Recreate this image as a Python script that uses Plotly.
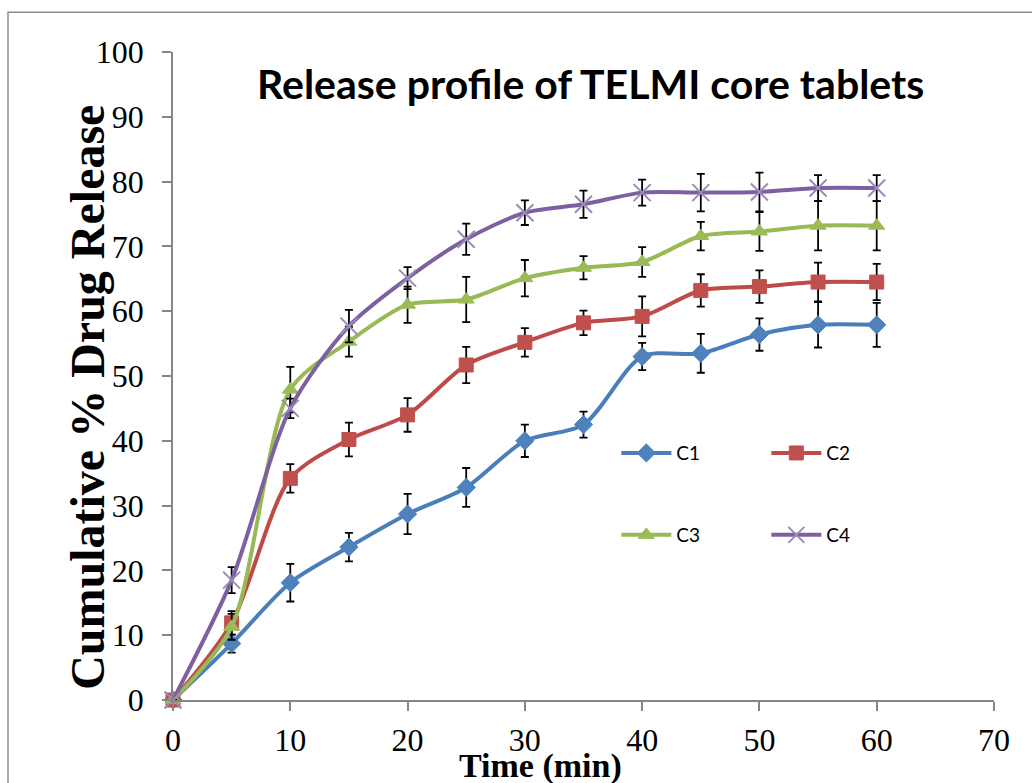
import plotly.graph_objects as go

time_min = [0, 5, 10, 15, 20, 25, 30, 35, 40, 45, 50, 55, 60]

c1 = [0, 8.7, 18.1, 23.6, 28.7, 32.8, 40.0, 42.5, 53.0, 53.5, 56.4, 57.9, 57.9]
c1_err = [0, 1.4, 2.9, 2.2, 3.1, 3.0, 2.5, 2.0, 2.1, 3.0, 2.5, 3.5, 3.4]
c2 = [0, 11.9, 34.2, 40.2, 44.0, 51.7, 55.2, 58.2, 59.2, 63.2, 63.8, 64.5, 64.5]
c2_err = [0, 1.8, 2.2, 2.6, 2.6, 2.8, 2.2, 1.9, 3.1, 2.5, 2.5, 3.0, 2.8]
c3 = [0, 11.3, 47.9, 55.3, 61.0, 61.8, 65.1, 66.7, 67.6, 71.6, 72.3, 73.2, 73.2]
c3_err = [0, 2.0, 3.5, 2.3, 2.8, 3.5, 2.8, 1.8, 2.3, 2.2, 3.0, 3.8, 3.8]
c4 = [0, 18.5, 45.0, 57.7, 65.1, 71.1, 75.2, 76.5, 78.3, 78.3, 78.4, 79.0, 79.0]
c4_err = [0, 2.0, 1.5, 2.5, 1.7, 2.4, 1.9, 2.1, 2.0, 2.9, 3.0, 2.0, 2.0]

series_names = ["C1", "C2", "C3", "C4"]
x_ticks = [0, 10, 20, 30, 40, 50, 60, 70]
y_ticks = [0, 10, 20, 30, 40, 50, 60, 70, 80, 90, 100]

SERIF = "Liberation Serif, Times New Roman, serif"
SANS = "Lato, Carlito, Calibri, sans-serif"

styles = [
    dict(line="#4A7EBB", marker="#4F81BD", symbol="diamond", size=14, legend="legend"),
    dict(line="#BE4B48", marker="#C0504D", symbol="square", size=14, legend="legend"),
    dict(line="#98B954", marker="#9BBB59", symbol="triangle-up", size=14, legend="legend2"),
    dict(line="#7D60A0", marker="#9A8BB8", symbol="x-thin-open", size=17, legend="legend2"),
]

fig = go.Figure()
for name, ys, err, st in zip(series_names, [c1, c2, c3, c4],
                             [c1_err, c2_err, c3_err, c4_err], styles):
    mk = dict(symbol=st["symbol"], size=st["size"], color=st["marker"])
    if st["symbol"] == "x-thin-open":
        mk["line"] = dict(color=st["marker"], width=2)
    else:
        mk["line"] = dict(color=st["marker"], width=1)
    fig.add_trace(go.Scatter(
        x=time_min, y=ys, name=name, mode="lines+markers",
        line=dict(color=st["line"], width=4, shape="spline", smoothing=0.8),
        marker=mk,
        error_y=dict(type="data", array=err, visible=True, color="black",
                     thickness=1.8, width=4),
        legend=st["legend"], cliponaxis=False,
    ))

axis_common = dict(
    showgrid=False, zeroline=False, showline=True, linecolor="#868686",
    linewidth=1.5, ticks="outside", ticklen=9, tickcolor="#868686",
    tickwidth=1.5, tickfont=dict(family=SERIF, size=32, color="black"),
)

legend_common = dict(orientation="h", x=0.54, xanchor="left", yanchor="middle",
                     bgcolor="rgba(0,0,0,0)", font=dict(family=SANS, size=19, color="black"),
                     entrywidth=85, itemwidth=50)

fig.update_layout(
    width=1032, height=783,
    margin=dict(l=173, r=38, t=52, b=83),
    paper_bgcolor="white", plot_bgcolor="white",
    xaxis=dict(range=[0, 70], tickvals=x_ticks, ticklabelstandoff=2, **axis_common),
    yaxis=dict(range=[0, 100], tickvals=y_ticks, ticklabelstandoff=12, **axis_common),
    legend=dict(y=0.381, **legend_common),
    legend2=dict(y=0.2546, **legend_common),
    annotations=[
        dict(text="<b>Release profile of TELMI core tablets</b>", xref="paper", yref="paper",
             x=(590 - 173) / 821, y=(699.7 - 84) / 647, showarrow=False,
             font=dict(family=SANS, size=41, color="black"), xanchor="center", yanchor="middle"),
        dict(text="<b>Cumulative % Drug Release</b>", xref="paper", yref="paper",
             x=(88 - 173) / 821, y=(699.7 - 398) / 647, showarrow=False, textangle=-90,
             font=dict(family=SERIF, size=48, color="black"), xanchor="center", yanchor="middle"),
        dict(text="<b>Time (min)</b>", xref="paper", yref="paper",
             x=(540 - 173) / 821, y=(699.7 - 766) / 647, showarrow=False,
             font=dict(family=SERIF, size=34, color="black"), xanchor="center", yanchor="middle"),
    ],
    shapes=[dict(type="rect", xref="paper", yref="paper",
                 x0=(8 - 173) / 821, x1=1.2, y0=-0.3, y1=(699.7 - 13) / 647,
                 line=dict(color="#8C8C8C", width=1.5), layer="below")],
)

fig.write_html("out.html")
